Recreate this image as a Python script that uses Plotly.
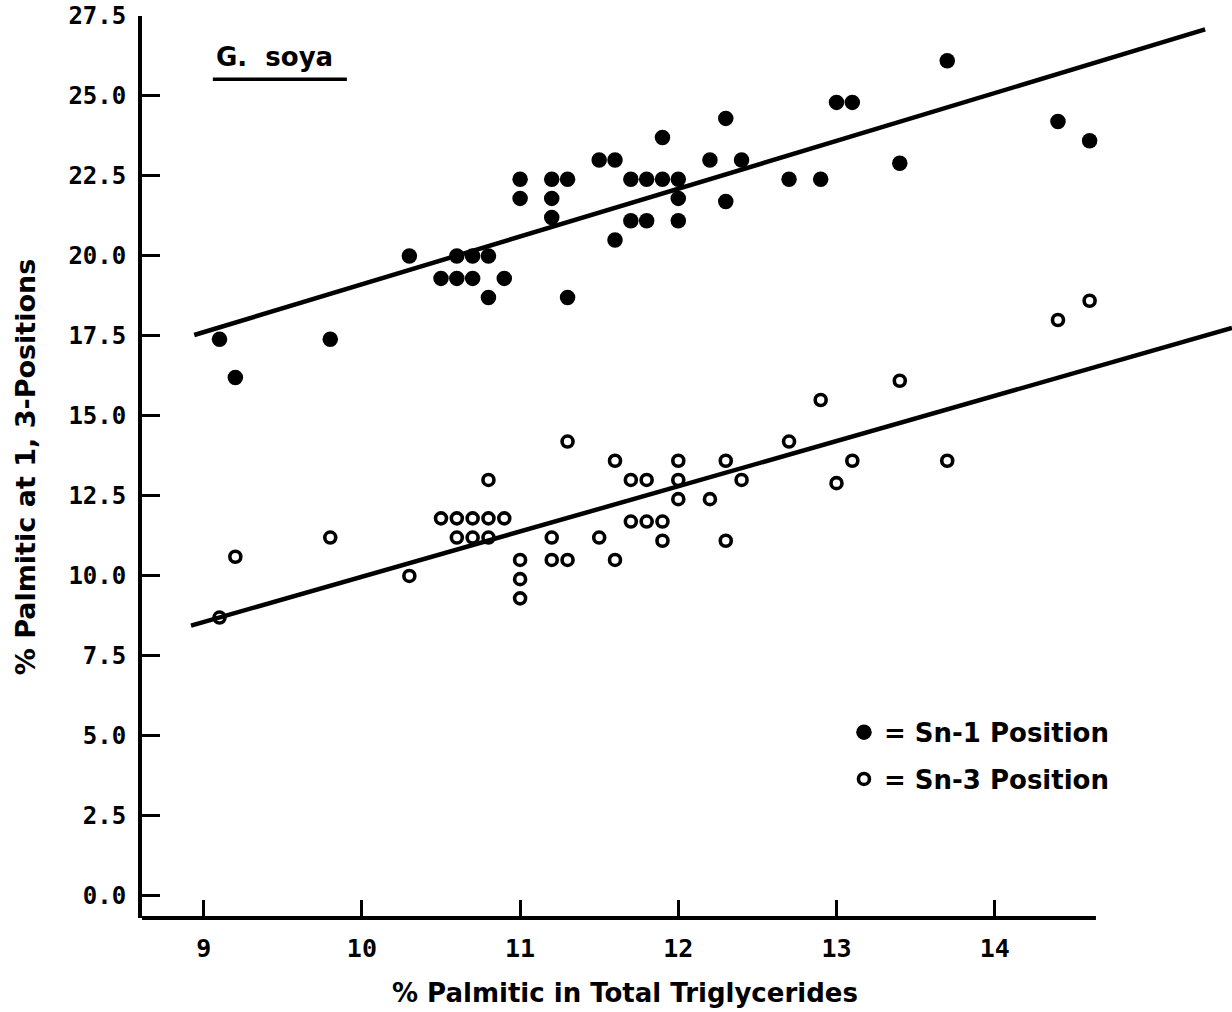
import plotly.graph_objects as go

# ---- data ----
sn1_x = [9.1, 9.2, 9.8, 10.3, 10.5, 10.6, 10.6, 10.7, 10.7, 10.8, 10.8, 10.9,
         11.0, 11.0, 11.2, 11.2, 11.2, 11.3, 11.3, 11.5, 11.6, 11.6, 11.7, 11.7,
         11.8, 11.8, 11.9, 11.9, 12.0, 12.0, 12.0, 12.2, 12.3, 12.3, 12.4, 12.7,
         12.9, 13.0, 13.1, 13.4, 13.7, 14.4, 14.6]
sn1_y = [17.4, 16.2, 17.4, 20.0, 19.3, 20.0, 19.3, 20.0, 19.3, 20.0, 18.7, 19.3,
         22.4, 21.8, 22.4, 21.8, 21.2, 22.4, 18.7, 23.0, 23.0, 20.5, 22.4, 21.1,
         22.4, 21.1, 23.7, 22.4, 22.4, 21.8, 21.1, 23.0, 24.3, 21.7, 23.0, 22.4,
         22.4, 24.8, 24.8, 22.9, 26.1, 24.2, 23.6]

sn3_x = [9.1, 9.2, 9.8, 10.3, 10.5, 10.6, 10.6, 10.7, 10.7, 10.8, 10.8, 10.8,
         10.9, 11.0, 11.0, 11.0, 11.2, 11.2, 11.3, 11.3, 11.5, 11.6, 11.6, 11.7,
         11.7, 11.8, 11.8, 11.9, 11.9, 12.0, 12.0, 12.0, 12.2, 12.3, 12.3, 12.4,
         12.7, 12.9, 13.0, 13.1, 13.4, 13.7, 14.4, 14.6]
sn3_y = [8.7, 10.6, 11.2, 10.0, 11.8, 11.8, 11.2, 11.8, 11.2, 11.8, 11.2, 13.0,
         11.8, 10.5, 9.9, 9.3, 11.2, 10.5, 10.5, 14.2, 11.2, 10.5, 13.6, 13.0,
         11.7, 13.0, 11.7, 11.7, 11.1, 13.6, 13.0, 12.4, 12.4, 13.6, 11.1, 13.0,
         14.2, 15.5, 12.9, 13.6, 16.1, 13.6, 18.0, 18.6]

fit1_x = [8.94, 15.33]
fit1_y = [17.53, 27.08]
fit3_x = [8.92, 15.50]
fit3_y = [8.45, 17.75]

x_ticks = [9, 10, 11, 12, 13, 14]
y_ticks = [0, 2.5, 5, 7.5, 10, 12.5, 15, 17.5, 20, 22.5, 25, 27.5]

# ---- styling ----
MONO = "DejaVu Sans Mono"
SANS = "DejaVu Sans"
BLACK = "#000000"

fig = go.Figure()

fig.add_trace(go.Scatter(x=fit1_x, y=fit1_y, mode="lines",
                         line=dict(color=BLACK, width=4.5), showlegend=False,
                         hoverinfo="skip"))
fig.add_trace(go.Scatter(x=fit3_x, y=fit3_y, mode="lines",
                         line=dict(color=BLACK, width=4.5), showlegend=False,
                         hoverinfo="skip"))

fig.add_trace(go.Scatter(x=sn1_x, y=sn1_y, mode="markers", name="= Sn-1 Position",
                         legendgroup="a",
                         marker=dict(symbol="circle", size=15.5, color=BLACK,
                                     line=dict(width=0))))
fig.add_trace(go.Scatter(x=sn3_x, y=sn3_y, mode="markers", name="= Sn-3 Position",
                         legendgroup="b",
                         marker=dict(symbol="circle-open", size=11,
                                     color=BLACK, line=dict(width=3.6, color=BLACK))))

x_range = [8.61, 15.5]
x_axis_end = 14.64

fig.update_layout(
    width=1232, height=1012,
    margin=dict(l=142, r=0, t=16, b=94),
    paper_bgcolor="white", plot_bgcolor="white",
    showlegend=True,
    legend=dict(x=0.644, y=0.232, xanchor="left", yanchor="top",
                bgcolor="rgba(0,0,0,0)", borderwidth=0,
                font=dict(family=SANS, size=26, color=BLACK, weight="bold"),
                itemwidth=30, tracegroupgap=10, traceorder="grouped"),
    xaxis=dict(range=x_range, tickvals=x_ticks, ticktext=[str(v) for v in x_ticks],
               showgrid=False, zeroline=False, showline=False,
               ticks="inside", ticklen=18, tickwidth=3, tickcolor=BLACK,
               ticklabelstandoff=13,
               tickfont=dict(family=MONO, size=25, color=BLACK, weight="bold")),
    yaxis=dict(range=[-0.69, 27.5], tickvals=y_ticks, tickformat=".1f",
               showgrid=False, zeroline=False, showline=True, linewidth=4,
               linecolor=BLACK, mirror=False,
               ticks="inside", ticklen=18, tickwidth=3, tickcolor=BLACK,
               ticklabelstandoff=7,
               tickfont=dict(family=MONO, size=24, color=BLACK, weight="bold"),
               title=dict(text="% Palmitic at 1, 3-Positions", standoff=26,
                          font=dict(family=SANS, size=27, color=BLACK, weight="bold"))),
)

# bottom axis line (stops short of the right edge, as in the reference)
fig.add_shape(type="line", xref="x", yref="paper", x0=x_range[0], x1=x_axis_end,
              y0=0, y1=0, line=dict(color=BLACK, width=4))

# x-axis title
fig.add_annotation(text="% Palmitic in Total Triglycerides", xref="paper", yref="paper",
                   x=0.443, y=-0.083, xanchor="center", yanchor="middle",
                   showarrow=False,
                   font=dict(family=SANS, size=26, color=BLACK, weight="bold"))

# species label with underline
fig.add_annotation(text="G.  soya", xref="paper", yref="paper",
                   x=0.066, y=0.955, xanchor="left", yanchor="middle",
                   showarrow=False,
                   font=dict(family=SANS, size=26, color=BLACK, weight="bold"))
fig.add_shape(type="line", xref="paper", yref="paper", x0=0.065, x1=0.188,
              y0=0.93, y1=0.93, line=dict(color=BLACK, width=3.5))

fig.write_html("out.html")
